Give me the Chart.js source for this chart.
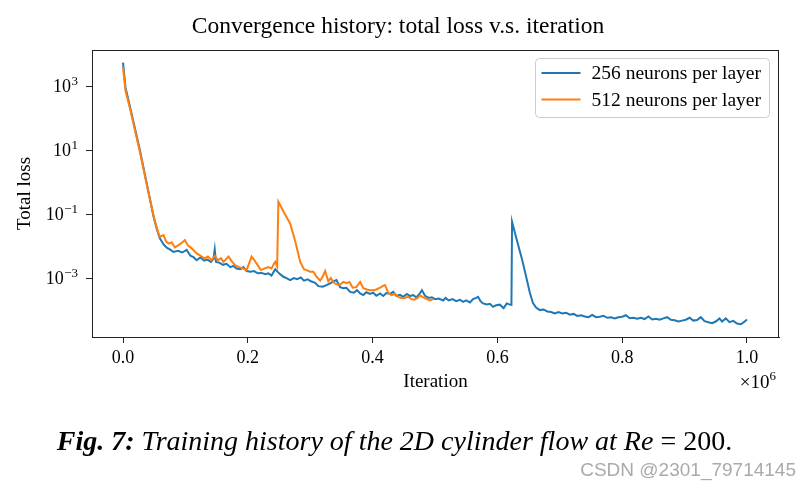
<!DOCTYPE html>
<html>
<head>
<meta charset="utf-8">
<script src="https://cdn.jsdelivr.net/npm/chart.js@4.4.0/dist/chart.umd.min.js"></script>
<style>
  html, body { margin: 0; padding: 0; background: #fff; }
  #wrap { position: relative; width: 811px; height: 489px; overflow: hidden; }
  #chart { position: absolute; left: 0; top: 0; }
  #caption { position: absolute; left: 0; width: 789px; top: 425px; line-height: 32px; text-align: center;
             font-family: 'Liberation Serif', serif; font-size: 28px; font-style: italic; color: #000; white-space: nowrap; }
  #caption b { font-weight: bold; }
  #caption .up { font-style: normal; }
  #mark { position: absolute; right: 15px; top: 459px; line-height: 22px;
          font-family: 'Liberation Sans', Arial, sans-serif; font-size: 19px; color: #aaa; }
</style>
</head>
<body>
<div id="wrap">
  <canvas id="chart" width="811" height="489"></canvas>
  <div id="caption"><b>Fig. 7:</b> Training history of the 2D cylinder flow at Re <span class="up">= 200.</span></div>
  <div id="mark">CSDN @2301_79714145</div>
</div>
<script>
// iterations are in units of 1e6
var blueIter = [0, 0.004, 0.0112, 0.027, 0.038, 0.049, 0.054, 0.059, 0.065, 0.07, 0.075, 0.081, 0.088, 0.095,
  0.102, 0.108, 0.113, 0.118, 0.124, 0.13, 0.135, 0.141, 0.145, 0.147, 0.149, 0.155, 0.16, 0.166, 0.172,
  0.177, 0.182, 0.188, 0.193, 0.198, 0.204, 0.21, 0.216, 0.222, 0.228, 0.233, 0.238, 0.244, 0.25, 0.257,
  0.262, 0.268, 0.274, 0.279, 0.285, 0.29, 0.296, 0.302, 0.308, 0.313, 0.32, 0.326, 0.332, 0.337, 0.342,
  0.348, 0.353, 0.358, 0.364, 0.37, 0.375, 0.38, 0.385, 0.39, 0.396, 0.401, 0.406, 0.412, 0.417, 0.422,
  0.428, 0.433, 0.438, 0.444, 0.449, 0.455, 0.46, 0.465, 0.47, 0.475, 0.479, 0.484, 0.49, 0.495, 0.5,
  0.506, 0.513, 0.517, 0.522, 0.528, 0.534, 0.54, 0.545, 0.55, 0.556, 0.561, 0.566, 0.569, 0.573, 0.577,
  0.583, 0.588, 0.593, 0.598, 0.604, 0.61, 0.615, 0.619, 0.6225, 0.6235, 0.631, 0.639, 0.646, 0.652,
  0.657, 0.662, 0.668, 0.674, 0.68, 0.686, 0.692, 0.698, 0.704, 0.71, 0.716, 0.722, 0.728, 0.734, 0.74,
  0.746, 0.752, 0.758, 0.764, 0.77, 0.776, 0.782, 0.788, 0.794, 0.8, 0.806, 0.812, 0.818, 0.824, 0.83,
  0.836, 0.842, 0.848, 0.854, 0.86, 0.866, 0.872, 0.878, 0.884, 0.89, 0.896, 0.902, 0.908, 0.914, 0.92,
  0.926, 0.932, 0.938, 0.944, 0.95, 0.956, 0.96, 0.966, 0.972, 0.978, 0.984, 0.99, 0.995, 1.0];
var blueLoss = [5.37e3, 8.9e2, 2.24e2, 1.0e1, 9.1e-1, 8.3e-2, 3.5e-2, 1.74e-2, 1.12e-2, 8.9e-3, 7.9e-3, 6.6e-3, 7.1e-3, 6.3e-3,
  7.6e-3, 5.0e-3, 4.5e-3, 3.6e-3, 4.4e-3, 3.5e-3, 3.8e-3, 3.2e-3, 4.0e-3, 7.9e-3, 3.2e-3, 3.0e-3, 2.6e-3, 2.8e-3, 2.2e-3,
  2.4e-3, 2.0e-3, 1.9e-3, 2.2e-3, 1.66e-3, 1.58e-3, 1.66e-3, 1.41e-3, 1.45e-3, 1.32e-3, 1.41e-3, 1.2e-3, 1.9e-3, 1.41e-3, 1.1e-3,
  1.0e-3, 8.7e-4, 1.0e-3, 9.3e-4, 1.05e-3, 8.3e-4, 9.1e-4, 7.8e-4, 7.1e-4, 5.6e-4, 5.4e-4, 6.0e-4, 6.8e-4, 7.9e-4, 8.7e-4,
  5.2e-4, 4.8e-4, 5.0e-4, 3.7e-4, 3.5e-4, 4.2e-4, 3.3e-4, 2.95e-4, 3.6e-4, 3.2e-4, 3.5e-4, 2.8e-4, 3.3e-4, 2.75e-4, 3.4e-4,
  3.2e-4, 3.7e-4, 2.8e-4, 3.0e-4, 2.6e-4, 3.2e-4, 2.75e-4, 2.95e-4, 2.5e-4, 3.2e-4, 4.2e-4, 2.8e-4, 2.4e-4, 2.5e-4, 2.2e-4,
  2.3e-4, 2.0e-4, 2.4e-4, 2.0e-4, 2.2e-4, 1.9e-4, 2.1e-4, 1.8e-4, 2.0e-4, 1.74e-4, 2.2e-4, 2.4e-4, 2.6e-4, 1.9e-4, 1.62e-4,
  1.51e-4, 1.58e-4, 1.26e-4, 1.41e-4, 1.48e-4, 1.15e-4, 1.62e-4, 1.51e-4, 1.45e-4, 5.75e-2, 1.58e-2, 4.2e-3, 1.12e-3, 3.5e-4,
  1.66e-4, 1.2e-4, 1.0e-4, 1.05e-4, 9.1e-5, 8.7e-5, 7.9e-5, 8.7e-5, 7.9e-5, 8.3e-5, 7.2e-5, 7.6e-5, 6.6e-5, 6.9e-5, 6.3e-5,
  6.0e-5, 7.1e-5, 6.0e-5, 6.2e-5, 6.6e-5, 5.75e-5, 6.0e-5, 5.5e-5, 6.0e-5, 6.2e-5, 6.9e-5, 5.6e-5, 5.75e-5, 5.4e-5, 5.75e-5,
  5.25e-5, 6.3e-5, 5.1e-5, 5.4e-5, 5.0e-5, 5.5e-5, 6.0e-5, 5.0e-5, 4.8e-5, 4.4e-5, 4.7e-5, 5.0e-5, 5.75e-5, 4.7e-5, 4.9e-5,
  6.0e-5, 4.5e-5, 4.2e-5, 3.9e-5, 4.4e-5, 5.5e-5, 4.4e-5, 5.5e-5, 4.2e-5, 4.6e-5, 3.8e-5, 3.6e-5, 4.2e-5, 5.1e-5];

var orangeIter = [0, 0.004, 0.0112, 0.027, 0.038, 0.049, 0.055, 0.059, 0.065, 0.069, 0.073, 0.078, 0.083, 0.089,
  0.094, 0.099, 0.104, 0.11, 0.118, 0.124, 0.131, 0.136, 0.142, 0.147, 0.152, 0.157, 0.161, 0.169, 0.175,
  0.18, 0.186, 0.192, 0.198, 0.203, 0.206, 0.211, 0.216, 0.221, 0.227, 0.233, 0.238, 0.242, 0.244, 0.247,
  0.249, 0.258, 0.268, 0.276, 0.284, 0.29, 0.294, 0.3, 0.305, 0.31, 0.316, 0.32, 0.324, 0.329, 0.333,
  0.338, 0.343, 0.348, 0.353, 0.358, 0.363, 0.368, 0.374, 0.38, 0.385, 0.391, 0.396, 0.401, 0.406, 0.412,
  0.417, 0.42, 0.425, 0.43, 0.436, 0.441, 0.446, 0.451, 0.457, 0.462, 0.467, 0.472, 0.476, 0.481, 0.487,
  0.492, 0.497];
var orangeLoss = [3.98e3, 7.1e2, 2.0e2, 8.9, 8.3e-1, 8.9e-2, 3.2e-2, 1.95e-2, 2.2e-2, 1.41e-2, 1.2e-2, 1.32e-2, 9.1e-3, 1.07e-2,
  1.26e-2, 1.55e-2, 1.05e-2, 8.5e-3, 5.9e-3, 5.0e-3, 4.1e-3, 4.7e-3, 3.6e-3, 5.0e-3, 3.6e-3, 4.2e-3, 3.2e-3, 4.7e-3, 3.2e-3,
  2.5e-3, 2.2e-3, 2.0e-3, 1.78e-3, 3.2e-3, 4.7e-3, 3.5e-3, 2.5e-3, 1.78e-3, 2.0e-3, 2.2e-3, 2.0e-3, 2.8e-3, 3.2e-3, 2.3e-3,
  2.45e-1, 1.12e-1, 5.0e-2, 1.41e-2, 3.2e-3, 1.9e-3, 1.78e-3, 1.58e-3, 1.58e-3, 1.12e-3, 8.3e-4, 1.12e-3, 1.66e-3, 7.9e-4, 1.0e-3,
  7.1e-4, 6.3e-4, 6.3e-4, 7.6e-4, 6.9e-4, 7.6e-4, 5.0e-4, 5.2e-4, 7.6e-4, 4.8e-4, 4.4e-4, 4.2e-4, 4.2e-4, 4.4e-4, 5.0e-4,
  5.75e-4, 6.0e-4, 3.5e-4, 2.95e-4, 3.2e-4, 2.6e-4, 2.4e-4, 2.4e-4, 2.6e-4, 2.2e-4, 2.1e-4, 2.4e-4, 2.9e-4, 2.5e-4, 2.2e-4,
  2.0e-4, 2.2e-4];

var seriesNames = ['256 neurons per layer', '512 neurons per layer'];
var xTickValues = [0, 0.2, 0.4, 0.6, 0.8, 1.0];
var yTickValues = [1e-3, 1e-1, 1e1, 1e3];
var yTickExponents = ['\u22123', '\u22121', '1', '3'];

var serif = "'Liberation Serif', 'Times New Roman', serif";
var colors = ['#1f77b4', '#ff7f0e'];

function toPoints(xs, ys) {
    return xs.map(function (x, i) { return { x: x, y: ys[i] }; });
}

// frame, title, y tick labels with superscripts, legend box and the x10^6 offset label
var decor = {
    id: 'decor',
    afterDraw: function (chart) {
        var ctx = chart.ctx;
        var a = chart.chartArea;
        ctx.save();
        ctx.strokeStyle = '#222';
        ctx.lineWidth = 1;
        ctx.strokeRect(a.left + 0.5, a.top + 0.5, a.right - a.left - 1, a.bottom - a.top);

        ctx.fillStyle = '#000';
        ctx.font = '23.5px ' + serif;
        ctx.textAlign = 'center';
        ctx.textBaseline = 'alphabetic';
        ctx.fillText('Convergence history: total loss v.s. iteration', 398, 33);

        // y tick labels 10^n
        var ys = chart.scales.y;
        ctx.textAlign = 'right';
        yTickValues.forEach(function (v, i) {
            var py = ys.getPixelForValue(v);
            var xr = a.left - 14;
            ctx.font = '13px ' + serif;
            var we = ctx.measureText(yTickExponents[i]).width;
            ctx.fillText(yTickExponents[i], xr, py - 1);
            ctx.font = '18px ' + serif;
            ctx.fillText('10', xr - we - 0.5, py + 6);
        });

        // legend
        var bx = a.right - 243.5, by = a.top + 8.5, bw = 234, bh = 59;
        ctx.beginPath();
        ctx.roundRect(bx, by, bw, bh, 4);
        ctx.fillStyle = 'rgba(255,255,255,0.8)';
        ctx.fill();
        ctx.strokeStyle = '#cccccc';
        ctx.stroke();
        ctx.font = '19.5px ' + serif;
        ctx.textAlign = 'left';
        ctx.textBaseline = 'middle';
        seriesNames.forEach(function (name, i) {
            var y = by + 14.5 + i * 26.6;
            ctx.strokeStyle = colors[i];
            ctx.lineWidth = 2;
            ctx.beginPath();
            ctx.moveTo(bx + 6, y);
            ctx.lineTo(bx + 45, y);
            ctx.stroke();
            ctx.fillStyle = '#000';
            ctx.fillText(name, bx + 56, y + 1);
        });

        // x10^6
        var xr6 = a.right - 3;
        ctx.textBaseline = 'alphabetic';
        ctx.textAlign = 'right';
        ctx.font = '13px ' + serif;
        var w6 = ctx.measureText('6').width;
        ctx.fillText('6', xr6, 380);
        ctx.font = '19px ' + serif;
        ctx.fillText('\u00D710', xr6 - w6, 388);
        ctx.restore();
    }
};

document.addEventListener('DOMContentLoaded', function () {
    var ctx = document.getElementById('chart').getContext('2d');
    var lossChart = new Chart(ctx, {
        type: 'line',
        data: {
            datasets: [{
                label: seriesNames[0],
                data: toPoints(blueIter, blueLoss),
                borderColor: colors[0],
                borderWidth: 2,
                pointRadius: 0,
                tension: 0,
                order: 1
            }, {
                label: seriesNames[1],
                data: toPoints(orangeIter, orangeLoss),
                borderColor: colors[1],
                borderWidth: 2,
                pointRadius: 0,
                tension: 0,
                order: 0
            }]
        },
        options: {
            responsive: false,
            animation: false,
            devicePixelRatio: 1,
            layout: { padding: { left: 0, right: 32, top: 50, bottom: 96 } },
            plugins: {
                legend: { display: false },
                tooltip: { enabled: false },
                title: { display: false }
            },
            scales: {
                x: {
                    type: 'linear',
                    min: -0.0497,
                    max: 1.0513,
                    afterBuildTicks: function (scale) {
                        scale.ticks = xTickValues.map(function (v) { return { value: v }; });
                    },
                    afterFit: function (scale) { scale.height = 56; },
                    ticks: {
                        callback: function (v) { return v.toFixed(1); },
                        font: { family: serif, size: 18 },
                        color: '#000',
                        padding: 4,
                        maxRotation: 0,
                        autoSkip: false
                    },
                    grid: { drawOnChartArea: false, drawTicks: true, tickLength: 6, tickColor: '#222' },
                    border: { display: true, color: '#222', width: 1 },
                    title: {
                        display: true,
                        text: 'Iteration',
                        font: { family: serif, size: 19 },
                        color: '#000',
                        padding: { top: 0, bottom: 0 }
                    }
                },
                y: {
                    type: 'logarithmic',
                    min: 1.445e-5,
                    max: 1.334e4,
                    afterBuildTicks: function (scale) {
                        scale.ticks = yTickValues.map(function (v) { return { value: v }; });
                    },
                    afterFit: function (scale) { scale.width = 92; },
                    ticks: { display: false },
                    grid: { drawOnChartArea: false, drawTicks: true, tickLength: 6, tickColor: '#222' },
                    border: { display: true, color: '#222', width: 1 },
                    title: {
                        display: true,
                        text: 'Total loss',
                        font: { family: serif, size: 19 },
                        color: '#000',
                        padding: { top: 14, bottom: 0 }
                    }
                }
            }
        },
        plugins: [decor]
    });
});
</script>
</body>
</html>
